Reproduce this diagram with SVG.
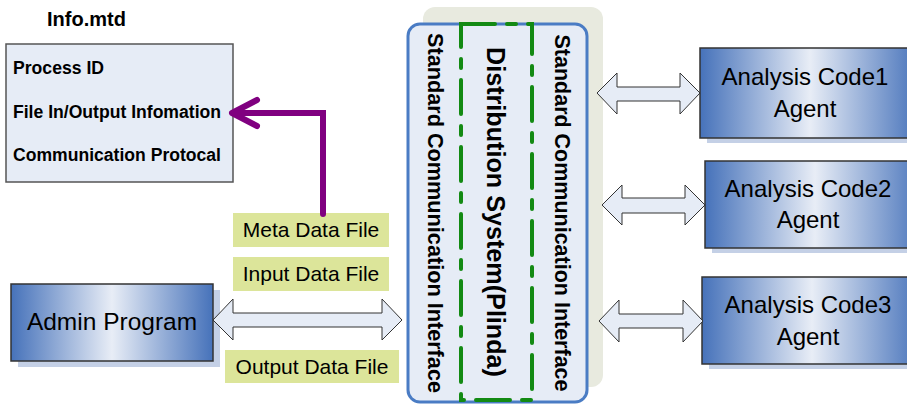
<svg xmlns="http://www.w3.org/2000/svg" width="907" height="404" viewBox="0 0 907 404">
<defs>
<linearGradient id="blueGrad" x1="0" y1="0" x2="1" y2="0">
<stop offset="0" stop-color="#4672ba"/>
<stop offset="0.5" stop-color="#e8edf6"/>
<stop offset="1" stop-color="#4672ba"/>
</linearGradient>
<style>
.bold{font-family:"Liberation Sans",Arial,sans-serif;font-weight:bold;fill:#000}
.reg{font-family:"Liberation Sans",Arial,sans-serif;fill:#000}
.node{fill:url(#blueGrad);stroke:#333;stroke-width:1.5}
.shadow{fill:#c4d0e6}
.label{fill:#dce59a}
.dbl{fill:#e6ecf6;stroke:#333;stroke-width:1}
</style>
</defs>
<rect width="907" height="404" fill="#fff"/>

<g id="info">
<text class="bold" x="47" y="26" font-size="20">Info.mtd</text>
<rect x="6" y="44" width="227" height="138" fill="#e6ecf6" stroke="#555" stroke-width="1.5"/>
<text class="bold" x="13" y="74" font-size="17.5" textLength="91" lengthAdjust="spacingAndGlyphs">Process ID</text>
<text class="bold" x="13" y="118" font-size="17.5" textLength="208" lengthAdjust="spacingAndGlyphs">File In/Output Infomation</text>
<text class="bold" x="13" y="161" font-size="17.5" textLength="208" lengthAdjust="spacingAndGlyphs">Communication Protocal</text>
</g>

<g id="distribution">
<rect x="423" y="7" width="180" height="380" rx="12" fill="#e8eadf"/>
<rect x="408" y="24" width="179" height="378" rx="12" fill="#e6ecf6" stroke="#4a7cc4" stroke-width="3"/>
<rect x="461" y="24" width="71" height="376" fill="none" stroke="#138a13" stroke-width="4" stroke-linecap="round" stroke-dasharray="34 12 9 12"/>
<text class="bold" transform="translate(435,213) rotate(90)" text-anchor="middle" dominant-baseline="central" font-size="21.5" textLength="360" lengthAdjust="spacingAndGlyphs">Standard Communication Interface</text>
<text class="bold" transform="translate(496,212) rotate(90)" text-anchor="middle" dominant-baseline="central" font-size="25.5" textLength="330" lengthAdjust="spacingAndGlyphs">Distribution System(Plinda)</text>
<text class="bold" transform="translate(562,213) rotate(90)" text-anchor="middle" dominant-baseline="central" font-size="21.5" textLength="357" lengthAdjust="spacingAndGlyphs">Standard Communication Interface</text>
</g>

<g id="admin">
<rect class="shadow" x="18" y="290" width="202" height="77"/>
<rect class="node" x="11" y="284" width="202" height="77"/>
<text class="reg" x="112" y="330" font-size="24.5" text-anchor="middle">Admin Program</text>
</g>

<g id="agent1">
<rect class="shadow" x="707" y="54" width="220" height="89"/>
<rect class="node" x="700" y="48" width="220" height="90"/>
<text class="reg" x="805" y="85" font-size="24" text-anchor="middle">Analysis Code1</text>
<text class="reg" x="805" y="117" font-size="24" text-anchor="middle">Agent</text>
</g>

<g id="agent2">
<rect class="shadow" x="712" y="167" width="220" height="86"/>
<rect class="node" x="705" y="161" width="220" height="87"/>
<text class="reg" x="808" y="197" font-size="24" text-anchor="middle">Analysis Code2</text>
<text class="reg" x="808" y="228" font-size="24" text-anchor="middle">Agent</text>
</g>

<g id="agent3">
<rect class="shadow" x="709" y="283" width="220" height="86"/>
<rect class="node" x="702" y="277" width="220" height="87"/>
<text class="reg" x="808" y="313" font-size="24" text-anchor="middle">Analysis Code3</text>
<text class="reg" x="808" y="345" font-size="24" text-anchor="middle">Agent</text>
</g>

<g id="labels">
<rect class="label" x="233" y="213" width="156" height="34"/>
<text class="reg" x="311" y="237" font-size="21" text-anchor="middle">Meta Data File</text>
<rect class="label" x="233" y="257" width="156" height="34"/>
<text class="reg" x="311" y="281" font-size="21" text-anchor="middle">Input Data File</text>
<rect class="label" x="225" y="350" width="174" height="33"/>
<text class="reg" x="312" y="374" font-size="21" text-anchor="middle">Output Data File</text>
</g>

<g id="connectors">
<polyline points="323,214 323,113 234,113" fill="none" stroke="#800080" stroke-width="6" stroke-linecap="round" stroke-linejoin="miter"/>
<polyline points="257,100 232,113 257,126" fill="none" stroke="#800080" stroke-width="6" stroke-linecap="round" stroke-linejoin="round"/>
<path class="dbl" d="M213,320 L233,299 L233,313 L382,313 L382,299 L402,320 L382,340 L382,327 L233,327 L233,340 Z"/>
<path class="dbl" d="M597,93 L617,73 L617,87 L680,87 L680,73 L700,93 L680,114 L680,101 L617,101 L617,114 Z"/>
<path class="dbl" d="M602,205 L622,185 L622,198 L685,198 L685,185 L705,205 L685,225 L685,213 L622,213 L622,225 Z"/>
<path class="dbl" d="M599,321 L619,300 L619,314 L683,314 L683,300 L703,321 L683,342 L683,328 L619,328 L619,342 Z"/>
</g>
</svg>
